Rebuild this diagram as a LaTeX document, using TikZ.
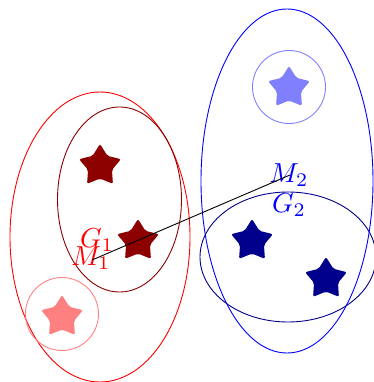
\documentclass[tikz,border=0pt]{standalone}
\usepackage{graphicx}
\usetikzlibrary{shapes.geometric}
\definecolor{dred}{RGB}{140,0,0}
\definecolor{pinkr}{RGB}{255,128,128}
\definecolor{dblue}{RGB}{0,0,140}
\definecolor{lblue}{RGB}{128,128,255}
\newcommand{\biglab}[1]{\scalebox{2.75}{$#1$}}
\begin{document}
\begin{tikzpicture}[x=1pt,y=-1pt,
  starnode/.style={star,star points=5,star point ratio=1.75,inner sep=0pt,minimum size=44pt,rounded corners=2pt,draw=none,fill=#1},
  ring/.style={draw=#1,line width=0.9pt},
  lab/.style={text=#1,inner sep=0pt}]
\useasboundingbox (0,0) rectangle (373,382);
% red cluster
\draw[ring=red] (100,237) ellipse [x radius=90,y radius=145];
\draw[ring=dred] (119.5,199.5) ellipse [x radius=62,y radius=92.5];
\draw[ring=pinkr] (62,314) circle [radius=36.5];
\node[starnode=dred] (s1) at (100,166) {};
\node[starnode=dred] (s2) at (138,241) {};
\node[starnode=pinkr] (s3) at (62,317) {};
% blue cluster
\draw[ring=blue] (287,181) ellipse [x radius=86,y radius=172];
\draw[ring=dblue] (288,257) ellipse [x radius=88,y radius=65];
\draw[ring=lblue] (289,87) circle [radius=36.5];
\node[starnode=dblue] (s4) at (252,241) {};
\node[starnode=dblue] (s5) at (326,279) {};
\node[starnode=lblue] (s6) at (289,88) {};
% labels
\node[lab=red] (g1) at (97,240) {\biglab{G_1}};
\node[lab=red] (m1) at (91,258) {\biglab{M_1}};
\node[lab=blue] (m2) at (289,175) {\biglab{M_2}};
\node[lab=blue] (g2) at (289,205) {\biglab{G_2}};
\coordinate (p1) at (92,260);
\coordinate (p2) at (290,175);
\draw[black,line width=0.9pt] (p1) -- (p2);
\end{tikzpicture}
\end{document}
